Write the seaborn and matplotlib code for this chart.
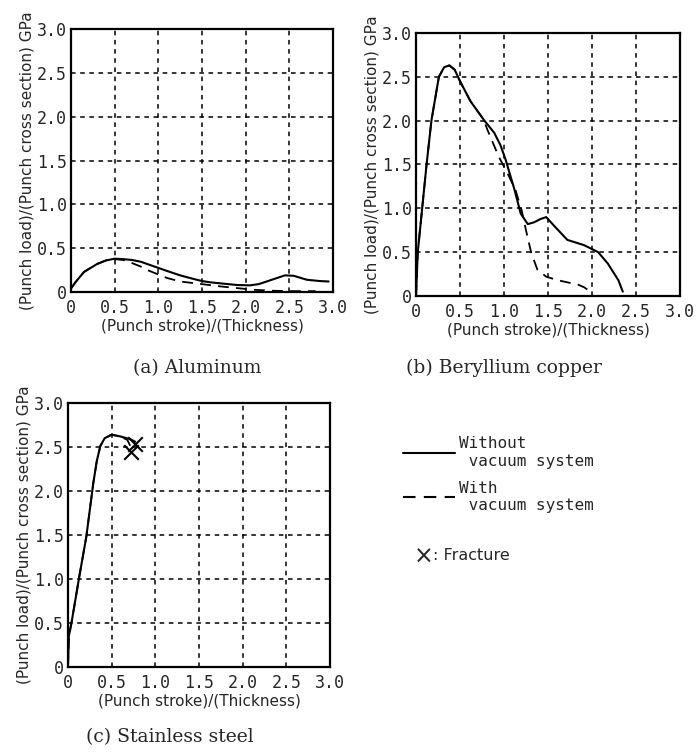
import pandas as pd
import matplotlib.pyplot as plt
import seaborn as sns
from matplotlib.lines import Line2D

# values
al_x = [0, 0.05, 0.15, 0.3, 0.4, 0.5, 0.6, 0.7, 0.8, 0.9, 1.0, 1.1, 1.25, 1.4, 1.5,
        1.6, 1.75, 1.9, 2.05, 2.15, 2.3, 2.45, 2.55, 2.7, 2.85, 2.95]
al_y = [0.04, 0.11, 0.23, 0.32, 0.36, 0.38, 0.375, 0.365, 0.345, 0.31, 0.275, 0.24, 0.19,
        0.15, 0.125, 0.11, 0.095, 0.08, 0.076, 0.09, 0.14, 0.19, 0.185, 0.14, 0.125, 0.12]
al_vac_x = [0, 0.05, 0.15, 0.3, 0.4, 0.5, 0.6, 0.7, 0.8, 0.9, 1.0, 1.1, 1.25, 1.5, 1.7,
            1.9, 2.1, 2.3, 2.5, 2.8]
al_vac_y = [0.04, 0.11, 0.23, 0.32, 0.36, 0.375, 0.365, 0.33, 0.29, 0.24, 0.2, 0.16, 0.12,
            0.09, 0.065, 0.045, 0.025, 0.015, 0.01, 0.01]

be_x = [0, 0.02, 0.07, 0.12, 0.175, 0.26, 0.32, 0.38, 0.44, 0.5, 0.62, 0.77, 0.89, 0.96,
        1.02, 1.12, 1.19, 1.27, 1.34, 1.42, 1.48, 1.57, 1.72, 1.91, 2.07, 2.18, 2.3, 2.35]
be_y = [0, 0.5, 1.0, 1.5, 2.0, 2.5, 2.61, 2.63, 2.58, 2.45, 2.22, 2.01, 1.86, 1.72, 1.55,
        1.21, 0.94, 0.82, 0.84, 0.88, 0.9, 0.8, 0.64, 0.58, 0.5, 0.37, 0.18, 0.05]
be_vac_x = [0, 0.02, 0.07, 0.12, 0.175, 0.26, 0.32, 0.38, 0.44, 0.5, 0.62, 0.77, 0.81,
            0.94, 1.04, 1.13, 1.2, 1.25, 1.31, 1.38, 1.48, 1.61, 1.84, 1.91, 2.01]
be_vac_y = [0, 0.5, 1.0, 1.5, 2.0, 2.5, 2.61, 2.63, 2.58, 2.45, 2.22, 2.01, 1.9, 1.59, 1.4,
            1.21, 0.98, 0.75, 0.49, 0.3, 0.22, 0.18, 0.13, 0.1, 0.03]

ss_x = [0, 0.01, 0.04, 0.13, 0.21, 0.29, 0.33, 0.37, 0.42, 0.5, 0.6, 0.71, 0.77]
ss_y = [0, 0.35, 0.5, 1.03, 1.48, 2.09, 2.34, 2.51, 2.6, 2.64, 2.62, 2.59, 2.56]
ss_vac_x = [0, 0.01, 0.04, 0.13, 0.21, 0.29, 0.33, 0.37, 0.42, 0.5, 0.6, 0.68, 0.72]
ss_vac_y = [0, 0.35, 0.5, 1.03, 1.48, 2.09, 2.34, 2.51, 2.6, 2.64, 2.62, 2.58, 2.5]
fracture_x = [0.77, 0.72]
fracture_y = [2.53, 2.44]

ticks = [0, 0.5, 1.0, 1.5, 2.0, 2.5, 3.0]
tick_labels = ['0', '0.5', '1.0', '1.5', '2.0', '2.5', '3.0']
captions = ['(a) Aluminum', '(b) Beryllium copper', '(c) Stainless steel']

sns.set_style('white')
plt.rcParams['font.family'] = ['DejaVu Sans']

fig = plt.figure(figsize=(7, 7.53), dpi=100)
ax_a = fig.add_axes([0.1014, 0.6122, 0.3743, 0.3493])
ax_b = fig.add_axes([0.5943, 0.6069, 0.3771, 0.3493])
ax_c = fig.add_axes([0.0971, 0.1142, 0.3743, 0.3506])

dash = (0, (6, 4))
pairs = [(ax_a, al_x, al_y, al_vac_x, al_vac_y),
         (ax_b, be_x, be_y, be_vac_x, be_vac_y),
         (ax_c, ss_x, ss_y, ss_vac_x, ss_vac_y)]

for ax, x1, y1, x2, y2 in pairs:
    sns.lineplot(x=x2, y=y2, ax=ax, color='k', lw=1.3, linestyle=dash, estimator=None, sort=False)
    sns.lineplot(x=x1, y=y1, ax=ax, color='k', lw=1.5, estimator=None, sort=False)
    ax.set_xlim(0, 3.0)
    ax.set_ylim(0, 3.0)
    ax.set_xticks(ticks)
    ax.set_yticks(ticks)
    ax.set_xticklabels(tick_labels, family='DejaVu Sans Mono', fontsize=12)
    ax.set_yticklabels(tick_labels, family='DejaVu Sans Mono', fontsize=12)
    ax.tick_params(length=0, pad=3)
    ax.tick_params(axis='x', pad=5)
    ax.grid(True, color='k', linestyle=(0, (3, 3)), lw=1.1)
    for s in ax.spines.values():
        s.set_color('k')
        s.set_linewidth(1.6)
    ax.set_xlabel('(Punch stroke)/(Thickness)', fontsize=11, labelpad=1)
    ax.set_ylabel('(Punch load)/(Punch cross section) GPa', fontsize=11, labelpad=2)

sns.scatterplot(x=fracture_x, y=fracture_y, ax=ax_c, marker='x', s=110, color='k', linewidth=1.5)

fig.text(0.281, 0.511, captions[0], ha='center', va='center', family='DejaVu Serif', fontsize=13.5)
fig.text(0.72, 0.511, captions[1], ha='center', va='center', family='DejaVu Serif', fontsize=13.5)
fig.text(0.243, 0.021, captions[2], ha='center', va='center', family='DejaVu Serif', fontsize=13.5)

handles = [Line2D([], [], color='k', lw=1.5),
           Line2D([], [], color='k', lw=1.5, linestyle=dash)]
fig.legend(handles, ['Without\n vacuum system', 'With\n vacuum system'],
           loc='upper left', bbox_to_anchor=(0.565, 0.431), frameon=False,
           borderpad=0, handlelength=3.2, handletextpad=0.3, labelspacing=0.75,
           prop={'family': 'DejaVu Sans Mono', 'size': 11.5})
fig.text(0.591, 0.261, '\u00d7', ha='left', va='center', fontsize=17)
fig.text(0.618, 0.262, ': Fracture', ha='left', va='center', fontsize=11.5)

fig.savefig('out.png', dpi=100)
